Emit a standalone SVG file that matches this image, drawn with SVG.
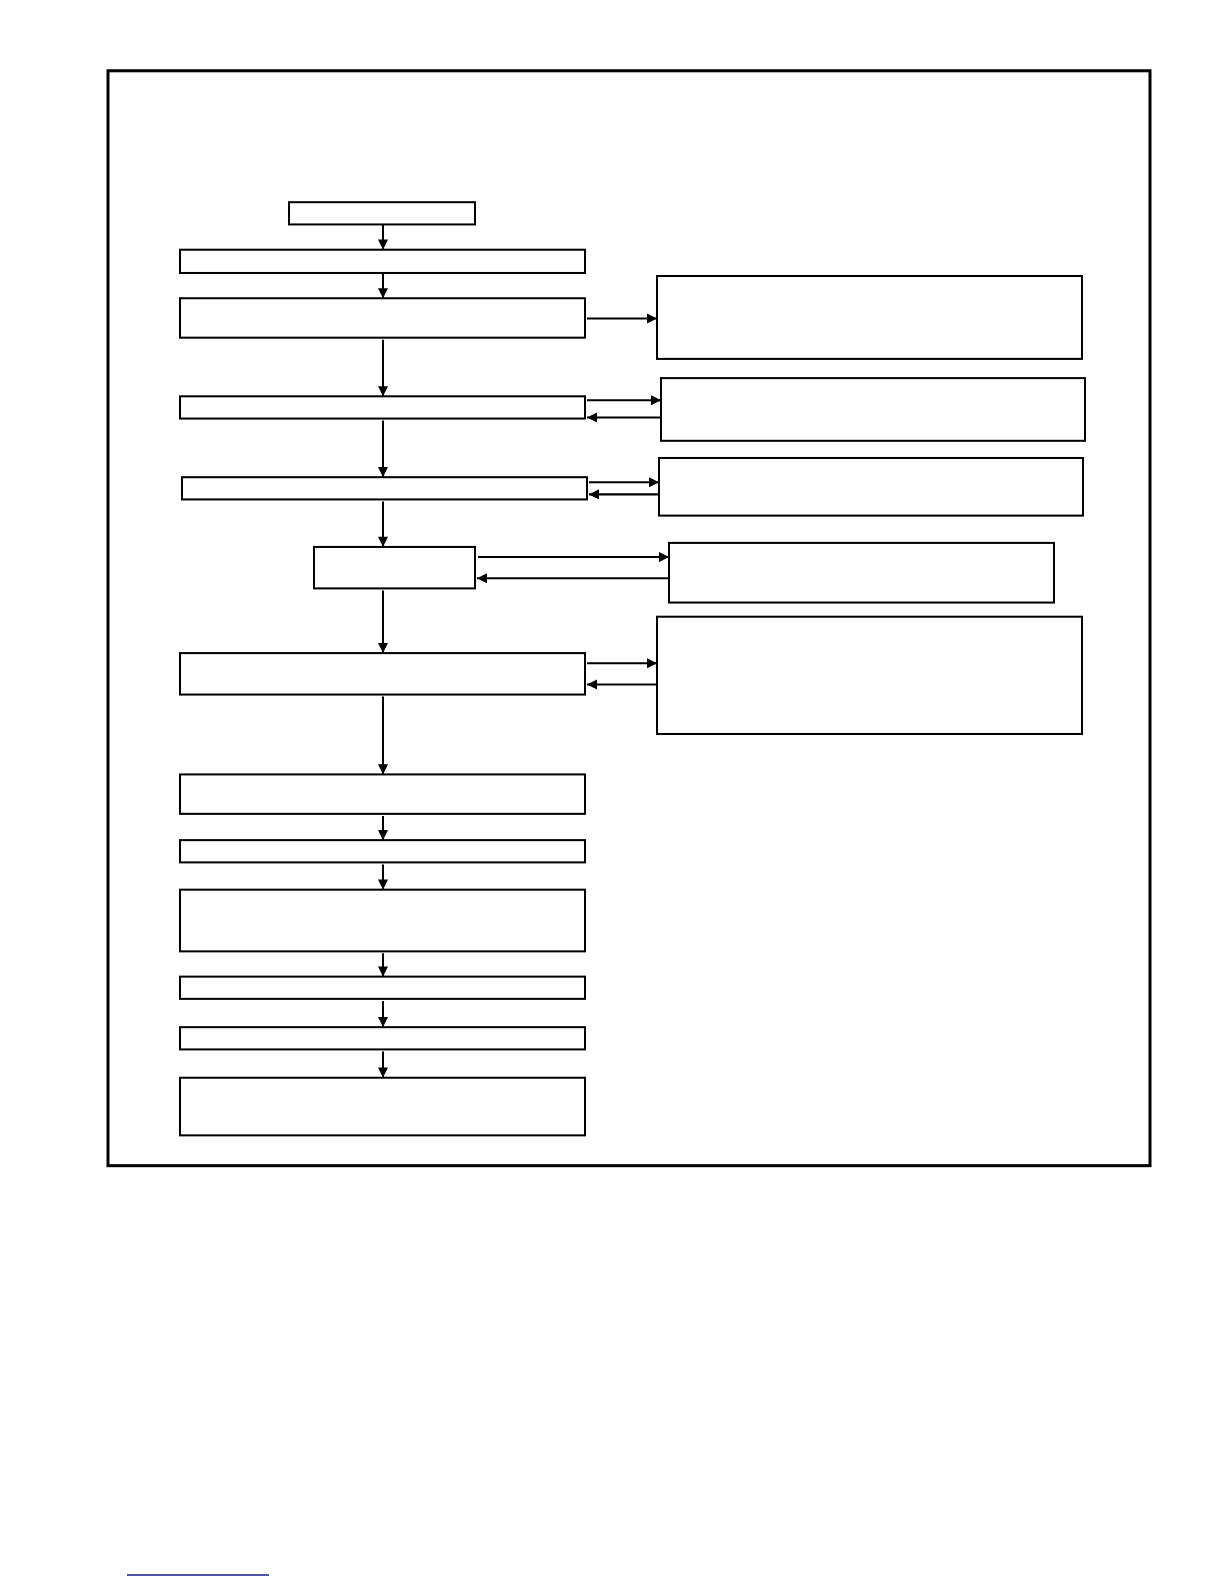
<svg xmlns="http://www.w3.org/2000/svg" width="1224" height="1584" viewBox="0 0 1224 1584">
<style>
.n{fill:#fff;stroke:#000;stroke-width:2}
.c{stroke:#000;stroke-width:2;fill:none;marker-end:url(#a)}
</style>
<defs><marker id="a" viewBox="0 0 10 10" refX="10" refY="5" markerWidth="6" markerHeight="5" orient="auto" markerUnits="strokeWidth"><path d="M0,0L10,5L0,10z" fill="#000"/></marker></defs>
<rect width="1224" height="1584" fill="#fff"/>
<g transform="scale(1,1.011)">
<rect x="108" y="70" width="1042" height="1083" fill="none" stroke="#000" stroke-width="3"/>
<g id="b1"><rect class="n" x="289" y="200" width="186" height="22"/></g>
<g id="b2"><rect class="n" x="180" y="247" width="405" height="23"/></g>
<g id="b3"><rect class="n" x="180" y="295" width="405" height="39"/></g>
<g id="b4"><rect class="n" x="180" y="392" width="405" height="22"/></g>
<g id="b5"><rect class="n" x="182" y="472" width="405" height="22"/></g>
<g id="b6"><rect class="n" x="314" y="541" width="161" height="41"/></g>
<g id="b7"><rect class="n" x="180" y="646" width="405" height="41"/></g>
<g id="b8"><rect class="n" x="180" y="766" width="405" height="39"/></g>
<g id="b9"><rect class="n" x="180" y="831" width="405" height="22"/></g>
<g id="b10"><rect class="n" x="180" y="880" width="405" height="61"/></g>
<g id="b11"><rect class="n" x="180" y="966" width="405" height="22"/></g>
<g id="b12"><rect class="n" x="180" y="1016" width="405" height="22"/></g>
<g id="b13"><rect class="n" x="180" y="1066" width="405" height="57"/></g>
<g id="r1"><rect class="n" x="657" y="273" width="425" height="82"/></g>
<g id="r2"><rect class="n" x="661" y="374" width="424" height="62"/></g>
<g id="r3"><rect class="n" x="659" y="453" width="424" height="57"/></g>
<g id="r4"><rect class="n" x="669" y="537" width="385" height="59"/></g>
<g id="r5"><rect class="n" x="657" y="610" width="425" height="116"/></g>
<g id="connectors">
<path class="c" d="M383,222V247"/>
<path class="c" d="M383,270V295"/>
<path class="c" d="M383,336V392"/>
<path class="c" d="M383,416V472"/>
<path class="c" d="M383,496V541"/>
<path class="c" d="M383,584V646"/>
<path class="c" d="M383,689V766"/>
<path class="c" d="M383,807V831"/>
<path class="c" d="M383,855V880"/>
<path class="c" d="M383,943V966"/>
<path class="c" d="M383,990V1016"/>
<path class="c" d="M383,1040V1066"/>
<path class="c" d="M587,315H657"/>
<path class="c" d="M587,396H661"/>
<path class="c" d="M661,413H587"/>
<path class="c" d="M589,477H659"/>
<path class="c" d="M659,489H589"/>
<path class="c" d="M478,551H669"/>
<path class="c" d="M669,572H477"/>
<path class="c" d="M587,656H657"/>
<path class="c" d="M657,677H587"/>
</g>
</g>
<line x1="127" y1="1575" x2="269" y2="1575" stroke="#1a1a8c" stroke-width="1.5"/>
</svg>
